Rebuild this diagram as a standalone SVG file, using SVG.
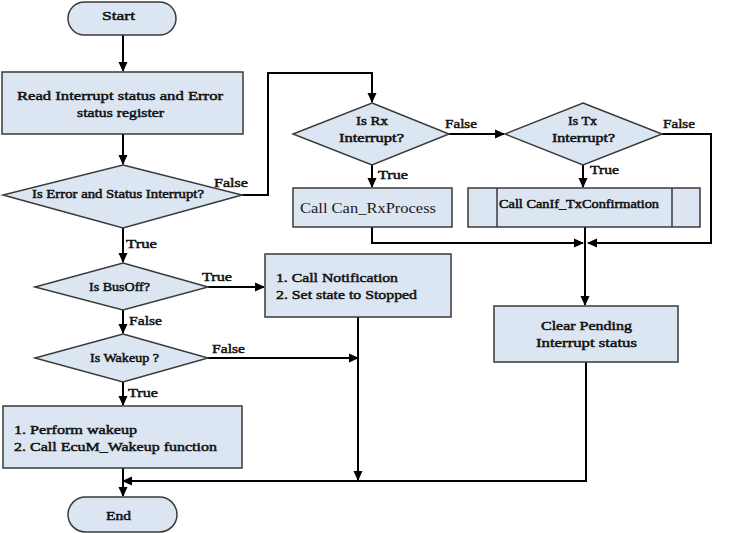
<svg xmlns="http://www.w3.org/2000/svg" width="732" height="533" viewBox="0 0 732 533">
<style>
.n{fill:#dce6f2;stroke:#3a3a3a;stroke-width:1.5}
.t{font-family:"Liberation Serif","Times New Roman",serif;font-weight:normal;font-size:13.5px;fill:#111;stroke:#111;stroke-width:0.5}
.s{font-size:12.5px}
.x{font-size:12px}
.r{stroke:none;fill:#1a1a1a;font-size:14px}
.e{fill:none;stroke:#000;stroke-width:2}
</style>
<defs>
<marker id="a" markerUnits="userSpaceOnUse" markerWidth="10" markerHeight="10" refX="9" refY="5" orient="auto">
<path d="M0,0.5 L10,5 L0,9.5 Z" fill="#000"/>
</marker>
</defs>
<rect width="732" height="533" fill="#fff"/>
<g id="connectors">
<path class="e" d="M123,35 V71" marker-end="url(#a)"/>
<path class="e" d="M123,134 V164" marker-end="url(#a)"/>
<path class="e" d="M242,195 H268 V73 H372 V102" marker-end="url(#a)"/>
<path class="e" d="M449,134 H504" marker-end="url(#a)"/>
<path class="e" d="M662,134 H711 V243 H588" marker-end="url(#a)"/>
<path class="e" d="M372,165 V187" marker-end="url(#a)"/>
<path class="e" d="M583,165 V187" marker-end="url(#a)"/>
<path class="e" d="M372,227 V243 H583" marker-end="url(#a)"/>
<path class="e" d="M585,227 V305" marker-end="url(#a)"/>
<path class="e" d="M123,228 V262" marker-end="url(#a)"/>
<path class="e" d="M208,287 H264" marker-end="url(#a)"/>
<path class="e" d="M123,310 V333" marker-end="url(#a)"/>
<path class="e" d="M208,358 H358" marker-end="url(#a)"/>
<path class="e" d="M358,317 V480" marker-end="url(#a)"/>
<path class="e" d="M123,382 V405" marker-end="url(#a)"/>
<path class="e" d="M586,362 V481 H123" marker-end="url(#a)"/>
<path class="e" d="M123,468 V496" marker-end="url(#a)"/>
<text class="t" x="214" y="187" textLength="34" lengthAdjust="spacingAndGlyphs">False</text>
<text class="t" x="445" y="128" textLength="32" lengthAdjust="spacingAndGlyphs">False</text>
<text class="t" x="663" y="128" textLength="32" lengthAdjust="spacingAndGlyphs">False</text>
<text class="t" x="378" y="179" textLength="30" lengthAdjust="spacingAndGlyphs">True</text>
<text class="t" x="590" y="174" textLength="29" lengthAdjust="spacingAndGlyphs">True</text>
<text class="t" x="126" y="248" textLength="31" lengthAdjust="spacingAndGlyphs">True</text>
<text class="t" x="202" y="281" textLength="30" lengthAdjust="spacingAndGlyphs">True</text>
<text class="t" x="129" y="325" textLength="33" lengthAdjust="spacingAndGlyphs">False</text>
<text class="t" x="212" y="353" textLength="33" lengthAdjust="spacingAndGlyphs">False</text>
<text class="t" x="128" y="397" textLength="30" lengthAdjust="spacingAndGlyphs">True</text>
</g>
<g id="start">
<rect class="n" x="68" y="2" width="108" height="33" rx="16.5"/>
<text class="t" x="102" y="20" textLength="33" lengthAdjust="spacingAndGlyphs">Start</text>
</g>
<g id="read">
<rect class="n" x="2" y="72" width="241" height="62"/>
<text class="t" x="17" y="100" textLength="206" lengthAdjust="spacingAndGlyphs">Read Interrupt status and Error</text>
<text class="t" x="77" y="117" textLength="87" lengthAdjust="spacingAndGlyphs">status register</text>
</g>
<g id="errDecision">
<polygon class="n" points="123,165 242,195 123,228 3,195"/>
<text class="t s" x="32" y="198" textLength="172" lengthAdjust="spacingAndGlyphs">Is Error and Status Interrupt?</text>
</g>
<g id="rxDecision">
<polygon class="n" points="372,103 449,134 372,165 293,134"/>
<text class="t s" x="356" y="125" textLength="32" lengthAdjust="spacingAndGlyphs">Is Rx</text>
<text class="t s" x="339" y="142" textLength="65" lengthAdjust="spacingAndGlyphs">Interrupt?</text>
</g>
<g id="txDecision">
<polygon class="n" points="583,103 662,134 583,165 505,134"/>
<text class="t s" x="568" y="125" textLength="29" lengthAdjust="spacingAndGlyphs">Is Tx</text>
<text class="t s" x="552" y="142" textLength="63" lengthAdjust="spacingAndGlyphs">Interrupt?</text>
</g>
<g id="rxProcess">
<rect class="n" x="293" y="188" width="159" height="39"/>
<text class="t r" x="300" y="213" textLength="136" lengthAdjust="spacingAndGlyphs">Call Can_RxProcess</text>
</g>
<g id="txConfirm">
<rect class="n" x="468" y="188" width="232" height="39"/>
<line class="n" x1="497" y1="188" x2="497" y2="227"/>
<line class="n" x1="672" y1="188" x2="672" y2="227"/>
<text class="t x" x="499" y="208" textLength="160" lengthAdjust="spacingAndGlyphs">Call CanIf_TxConfirmation</text>
</g>
<g id="clearPending">
<rect class="n" x="494" y="306" width="184" height="56"/>
<text class="t" x="541" y="330" textLength="91" lengthAdjust="spacingAndGlyphs">Clear Pending</text>
<text class="t" x="536" y="347" textLength="101" lengthAdjust="spacingAndGlyphs">Interrupt status</text>
</g>
<g id="busOff">
<polygon class="n" points="123,263 208,287 123,310 35,287"/>
<text class="t s" x="89" y="291" textLength="61" lengthAdjust="spacingAndGlyphs">Is BusOff?</text>
</g>
<g id="notification">
<rect class="n" x="265" y="254" width="186" height="63"/>
<text class="t" x="276" y="282" textLength="122" lengthAdjust="spacingAndGlyphs">1. Call Notification</text>
<text class="t" x="276" y="299" textLength="141" lengthAdjust="spacingAndGlyphs">2. Set state to Stopped</text>
</g>
<g id="wakeup">
<polygon class="n" points="123,334 208,358 123,382 35,358"/>
<text class="t s" x="90" y="362" textLength="69" lengthAdjust="spacingAndGlyphs">Is Wakeup ?</text>
</g>
<g id="performWakeup">
<rect class="n" x="3" y="406" width="239" height="62"/>
<text class="t" x="14" y="434" textLength="123" lengthAdjust="spacingAndGlyphs">1. Perform wakeup</text>
<text class="t" x="14" y="451" textLength="203" lengthAdjust="spacingAndGlyphs">2. Call EcuM_Wakeup function</text>
</g>
<g id="end">
<rect class="n" x="68" y="497" width="109" height="35" rx="17.5"/>
<text class="t" x="106" y="520" textLength="25" lengthAdjust="spacingAndGlyphs">End</text>
</g>
</svg>
